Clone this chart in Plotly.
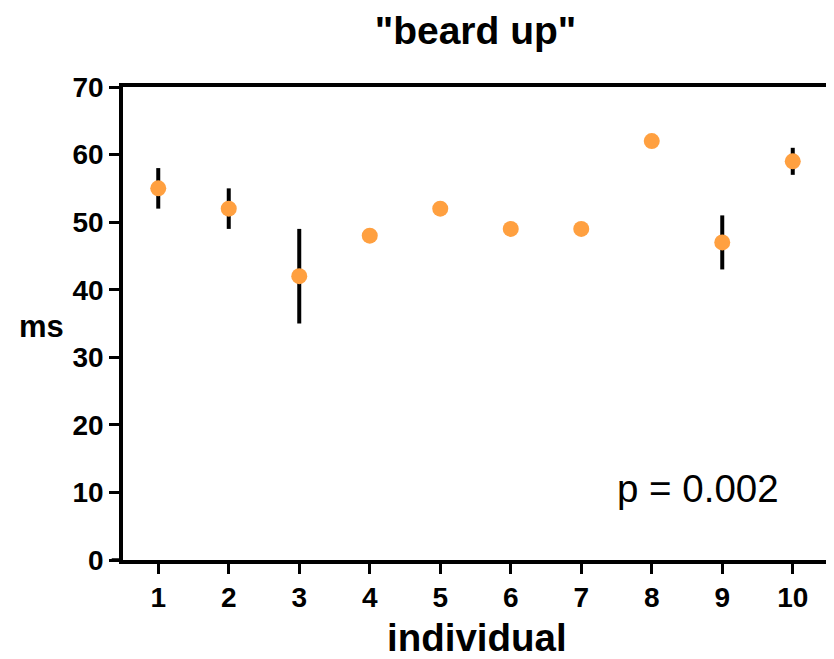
import plotly.graph_objects as go

individuals = [1, 2, 3, 4, 5, 6, 7, 8, 9, 10]
mean_ms = [55, 52, 42, 48, 52, 49, 49, 62, 47, 59]
err_ms = [3, 3, 7, 1, 1, 1, 1, 1, 4, 2]
y_ticks = [0, 10, 20, 30, 40, 50, 60, 70]

FONT = "Liberation Sans, Arial, sans-serif"

# page body has an 8px margin, so the figure is 8px smaller in each direction
W, H = 826, 651

fig = go.Figure()
fig.add_trace(go.Scatter(
    x=individuals, y=mean_ms, mode="markers",
    marker=dict(color="#FFA040", size=16, line=dict(width=0)),
    error_y=dict(type="data", array=err_ms, visible=True, color="black",
                 thickness=4, width=0),
    showlegend=False,
))

fig.update_layout(
    width=W, height=H,
    margin=dict(l=115, r=2, t=79, b=99),
    paper_bgcolor="white", plot_bgcolor="white",
    font=dict(family=FONT, color="black"),
    title=dict(text='<b>"beard up"</b>', x=0.5, xref="paper", xanchor="center",
               y=1 - 22 / H, yref="container", yanchor="middle",
               font=dict(size=39, family=FONT, color="black")),
    xaxis=dict(range=[0.5, 10.5], tickvals=individuals,
               ticktext=[f"<b>{i}</b>" for i in individuals],
               showgrid=False, zeroline=False, showline=True, linecolor="black",
               linewidth=3.5, mirror=True, ticks="outside", ticklen=10,
               tickwidth=3, tickcolor="black",
               tickfont=dict(size=28, family=FONT, color="black")),
    yaxis=dict(range=[0, 70], tickvals=y_ticks,
               ticktext=[f"<b>{v}</b>" for v in y_ticks],
               showgrid=False, zeroline=False, showline=True, linecolor="black",
               linewidth=3.5, mirror=True, ticks="outside", ticklen=10,
               tickwidth=3, tickcolor="black",
               tickfont=dict(size=28, family=FONT, color="black")),
    annotations=[
        dict(text="<b>ms</b>", xref="paper", yref="paper", x=-0.116, y=0.493,
             showarrow=False, xanchor="center", yanchor="middle",
             font=dict(size=31, family=FONT, color="black")),
        dict(text="<b>individual</b>", xref="paper", yref="paper", x=0.502,
             y=-0.163, showarrow=False, xanchor="center", yanchor="middle",
             font=dict(size=38.5, family=FONT, color="black")),
        dict(text="p = 0.002", xref="paper", yref="paper", x=0.815, y=0.152,
             showarrow=False, xanchor="center", yanchor="middle",
             font=dict(size=38.5, family=FONT, color="black")),
    ],
    shapes=[
        dict(type="line", xref="paper", yref="paper", x0=-0.016, x1=0,
             y0=0, y1=0, line=dict(color="black", width=3.5)),
    ],
)

fig.write_html("out.html")
